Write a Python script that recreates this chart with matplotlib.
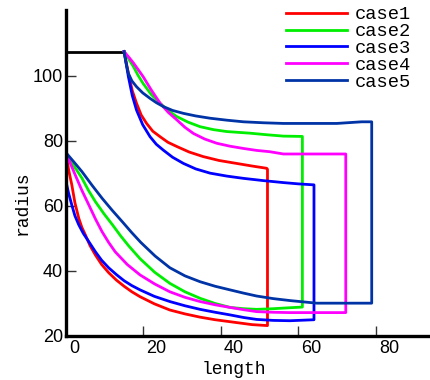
import matplotlib
matplotlib.use("Agg")
import matplotlib.pyplot as plt
from matplotlib.transforms import ScaledTranslation

# ---- data ----
labels = ["case1", "case2", "case3", "case4", "case5"]
colors = ["#ff0000", "#00ee00", "#0000ff", "#ff00ff", "#0033a6"]

inlet_x = [0, 15]
inlet_y = [107.5, 107.5]

case1_upper_x = [15, 16.1, 17.1, 18.2, 19.4, 20.8, 22.4, 24.3, 26.3, 28.6, 31.8, 35.4, 39.5, 44.0, 48, 51.8, 52]
case1_upper_y = [107.5, 100.8, 95.5, 91.6, 88.0, 85.4, 83.0, 81.3, 79.6, 78.3, 76.6, 75.2, 74.0, 73.1, 72.3, 71.6, 71.3]
case1_lower_x = [0, 0.7, 1.5, 2.3, 3.3, 4.1, 5.0, 6.2, 7.6, 9.2, 11, 13, 15, 17, 19.1, 22.8, 26.8, 30.7, 34.6, 38.5, 42.3, 48, 52]
case1_lower_y = [76, 71, 66.5, 61, 56.2, 53.4, 51.1, 47.8, 44.9, 42.0, 39.5, 37.2, 35.3, 33.6, 32.1, 29.9, 28.0, 26.8, 25.8, 25.0, 24.4, 23.5, 23.2]

case2_upper_x = [15, 16.2, 17.4, 18.6, 19.9, 22, 24.3, 26.4, 28.6, 31.5, 34.6, 38, 41.5, 47.5, 52, 56.1, 61]
case2_upper_y = [107.5, 105.2, 102.9, 100.2, 97.7, 94.3, 91.6, 89.3, 87.5, 85.8, 84.4, 83.5, 82.9, 82.4, 81.9, 81.5, 81.4]
case2_lower_x = [0, 2, 4.1, 5.8, 7.6, 9.8, 12.0, 14.1, 16.2, 19.1, 22.9, 26.8, 30.7, 34.6, 38.5, 42.3, 45.8, 49.2, 53.5, 57.8, 61]
case2_lower_y = [76.2, 72.4, 68.6, 64.8, 61.3, 57.6, 54.2, 50.8, 47.7, 43.8, 39.6, 36.2, 33.6, 31.6, 30.0, 28.8, 28.4, 28.2, 28.4, 28.7, 28.9]

case3_upper_x = [15, 16.1, 17.1, 18.2, 19.8, 21.7, 23.3, 25.1, 27.5, 30.3, 33.5, 37.2, 41.5, 45.8, 51, 56.1, 60, 64]
case3_upper_y = [107.5, 99.8, 94, 89.5, 85, 81.3, 79, 77.2, 75, 73.1, 71.4, 70.1, 69.2, 68.5, 67.8, 67.2, 66.8, 66.5]
case3_lower_x = [0, 0.7, 1.5, 2.3, 3.3, 4.5, 5.9, 7.6, 9.2, 11, 13, 15, 17, 19.1, 22.8, 26.8, 30.7, 34.6, 38.5, 42.3, 45.8, 49.2, 53.5, 57.8, 64]
case3_lower_y = [67.5, 63.8, 60.3, 57.0, 54.2, 51.5, 49.0, 45.9, 43.3, 41.0, 38.9, 37.0, 35.5, 34.2, 32.2, 30.6, 29.3, 28.2, 27.3, 26.5, 25.7, 25.1, 24.8, 24.7, 25.0]

case4_upper_x = [15, 16.2, 17.4, 18.6, 19.9, 22, 24.3, 26.4, 28.6, 30.7, 32.9, 35.8, 38.9, 42.3, 45.8, 49.2, 52.6, 56.1, 72.2]
case4_upper_y = [107.5, 105.8, 104, 102, 99.8, 95.7, 91.6, 88.8, 86.5, 84.2, 82.3, 80.6, 79.3, 78.4, 77.7, 77.1, 76.7, 76.0, 76.0]
case4_lower_x = [0, 1.2, 2.4, 4.1, 5.9, 7.6, 9.3, 11, 12.7, 15.8, 19.1, 22.9, 26.8, 30.7, 34.6, 38.5, 42.3, 45.8, 49.2, 53.5, 57.8, 72.2]
case4_lower_y = [76.2, 72.9, 69.5, 64.8, 60.3, 56.0, 52.1, 48.8, 45.9, 42.0, 38.8, 36.0, 33.6, 31.9, 30.6, 29.6, 28.8, 28.1, 27.5, 27.3, 27.2, 27.2]

case5_upper_x = [15, 15.5, 16.1, 17.0, 18.2, 19.8, 21.7, 23.3, 25.1, 27.5, 30.3, 33.5, 37.2, 41.5, 45.8, 51, 56.1, 69.9, 76.3, 78.9]
case5_upper_y = [107.5, 104, 100.8, 98.5, 96.7, 94.8, 93.1, 91.8, 90.6, 89.4, 88.5, 87.7, 87.0, 86.4, 85.9, 85.6, 85.4, 85.4, 85.9, 85.9]
case5_lower_x = [0, 2, 4.1, 6.7, 9.3, 11.9, 14.5, 16.9, 19.3, 23, 26.8, 30.7, 34.6, 38.5, 42.3, 45.8, 49.2, 53.5, 57.8, 64.7, 78.9]
case5_lower_y = [76.4, 73.6, 70.6, 66.4, 62.4, 58.7, 55.2, 51.9, 48.8, 44.6, 41.0, 38.5, 36.7, 35.3, 34.2, 33.2, 32.3, 31.5, 30.9, 30.1, 30.1]

uppers = [(case1_upper_x, case1_upper_y), (case2_upper_x, case2_upper_y),
          (case3_upper_x, case3_upper_y), (case4_upper_x, case4_upper_y),
          (case5_upper_x, case5_upper_y)]
lowers = [(case1_lower_x, case1_lower_y), (case2_lower_x, case2_lower_y),
          (case3_lower_x, case3_lower_y), (case4_lower_x, case4_lower_y),
          (case5_lower_x, case5_lower_y)]

xticks = [0, 20, 40, 60, 80]
yticks = [20, 40, 60, 80, 100]

# ---- figure ----
W, H = 431, 380
fig = plt.figure(figsize=(W / 100, H / 100), dpi=100)
ax = fig.add_axes([66 / W, (H - 336) / H, (W - 66) / W, (336 - 10) / H])

ax.plot(inlet_x, inlet_y, color="black", lw=2.0, solid_joinstyle="round")
for (ux, uy), (lx, ly), c, lab in zip(uppers, lowers, colors, labels):
    xs = list(ux) + list(reversed(lx))
    ys = list(uy) + list(reversed(ly))
    ax.plot(xs, ys, color=c, lw=2.0, label=lab, solid_joinstyle="round")

ax.set_xlim(0, 94.2)
ax.set_ylim(20, 120.3)
for s in ["top", "right"]:
    ax.spines[s].set_visible(False)
for s in ["left", "bottom"]:
    ax.spines[s].set_linewidth(2.4)
    ax.spines[s].set_color("black")

ax.set_xticks(xticks)
ax.set_yticks(yticks)
ax.tick_params(direction="in", length=7, width=1.0, colors="#333333",
               labelcolor="black", labelsize=13, pad=3)
ax.tick_params(axis="y", pad=2)
for t in ax.get_xticklabels() + ax.get_yticklabels():
    t.set_family("Liberation Sans")
off = ScaledTranslation(3 / 100, 0, fig.dpi_scale_trans)
for t in ax.get_xticklabels():
    t.set_ha("left")
    t.set_transform(t.get_transform() + off)

ax.set_xlabel("length", family="Liberation Mono", fontsize=13)
ax.xaxis.set_label_coords((234 - 66) / (W - 66), -(369 - 336) / (336 - 10), transform=ax.transAxes)
ax.xaxis.label.set_va("center")
ax.set_ylabel("radius", family="Liberation Mono", fontsize=13)
ax.yaxis.set_label_coords(-(66 - 22) / (W - 66), (336 - 203) / (336 - 10), transform=ax.transAxes)
ax.yaxis.label.set_va("center")

leg = ax.legend(loc="upper left", bbox_to_anchor=(286 / W, 1 - 6 / H),
                bbox_transform=fig.transFigure, frameon=False,
                prop={"family": "Liberation Mono", "size": 13.5},
                handlelength=3.25, handletextpad=0.43, labelspacing=-0.01,
                borderpad=0, borderaxespad=0)
for h in leg.get_lines():
    h.set_linewidth(2.0)

fig.savefig("out.png", dpi=100)
